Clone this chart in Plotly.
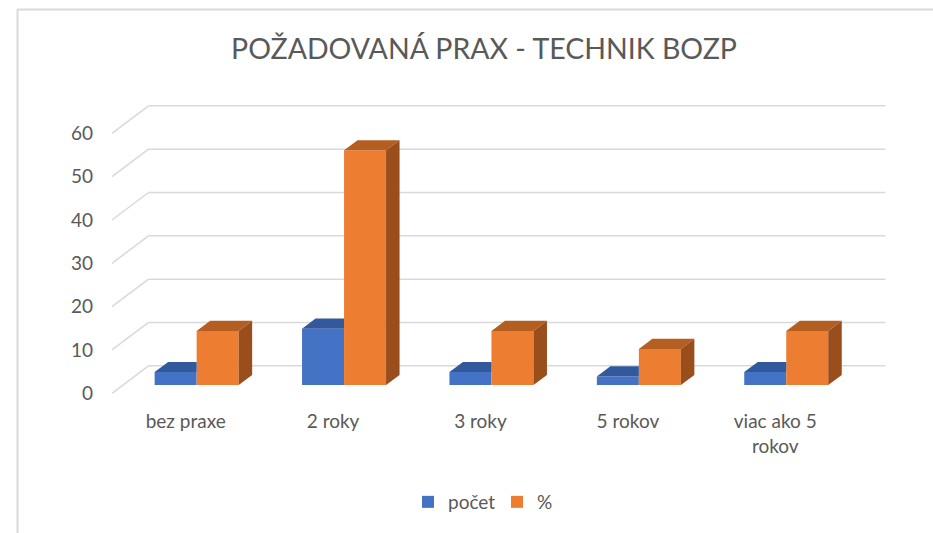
import plotly.graph_objects as go

# ---- data ----
categories = ["bez praxe", "2 roky", "3 roky", "5 rokov", "viac ako 5<br>rokov"]
pocet = [3, 13, 3, 2, 3]
percent = [12.5, 54.17, 12.5, 8.33, 12.5]
series_names = ["počet", "%"]
y_ticks = [0, 10, 20, 30, 40, 50, 60]
title_text = "POŽADOVANÁ PRAX - TECHNIK BOZP"

# ---- geometry / style ----
W, H = 933, 533
ML, MR, MT, MB = 100, 33, 95, 133
PW, PH = W - ML - MR, H - MT - MB
PX_X = 147.4          # px per category unit
PX_Y = 4.333          # px per value unit
ZERO_PY = 393.3       # pixel row of value 0 on the front floor edge
FLOOR_LEFT_PX = 112   # pixel column of the front floor left edge

xmin = -0.5 - (FLOOR_LEFT_PX - ML) / PX_X
xmax = xmin + PW / PX_X
ymin = -((MT + PH) - ZERO_PY) / PX_Y
ymax = ymin + PH / PX_Y

DDX = 36.5 / PX_X     # full depth vector (floor front -> back wall)
DDY = 27.5 / PX_Y
T0 = 0.30             # bar front plane depth fraction
TD = 0.37             # bar depth fraction
BW = 0.285            # single bar width

BLUE, BLUE_TOP = "#4472C4", "#32599B"
ORANGE, ORANGE_TOP, ORANGE_SIDE = "#ED7D31", "#B55E22", "#9A4E1C"
GRID = "#D9D9D9"
TXT = "#595959"
FONT = "Lato"

base = T0 * DDY
bdx, bdy = TD * DDX, TD * DDY

fig = go.Figure()

blue_x = [i + T0 * DDX - BW / 2 for i in range(len(categories))]
orng_x = [i + T0 * DDX + BW / 2 for i in range(len(categories))]

fig.add_trace(go.Bar(x=blue_x, y=pocet, base=[base] * len(pocet), width=BW,
                     marker=dict(color=BLUE, line=dict(width=0)), name=series_names[0],
                     hoverinfo="skip"))
fig.add_trace(go.Bar(x=orng_x, y=percent, base=[base] * len(percent), width=BW,
                     marker=dict(color=ORANGE, line=dict(width=0)), name=series_names[1],
                     hoverinfo="skip"))

# 3D faces computed from the data
bt_x, bt_y, ot_x, ot_y, os_x, os_y = [], [], [], [], [], []
for i, (b, o) in enumerate(zip(pocet, percent)):
    xc = i + T0 * DDX
    x0, x1, x2 = xc - BW, xc, xc + BW
    hb, ho = base + b, base + o
    bt_x += [x0, x1, x1, x0 + bdx, x0, None]
    bt_y += [hb, hb, hb + bdy, hb + bdy, hb, None]
    ot_x += [x1, x2, x2 + bdx, x1 + bdx, x1, None]
    ot_y += [ho, ho, ho + bdy, ho + bdy, ho, None]
    os_x += [x2, x2 + bdx, x2 + bdx, x2, x2, None]
    os_y += [base, base + bdy, ho + bdy, ho, base, None]

for xs, ys, col in [(bt_x, bt_y, BLUE_TOP), (ot_x, ot_y, ORANGE_TOP), (os_x, os_y, ORANGE_SIDE)]:
    fig.add_trace(go.Scatter(x=xs, y=ys, mode="lines", fill="toself", fillcolor=col,
                             line=dict(width=0, color=col), showlegend=False,
                             hoverinfo="skip"))

# back-wall gridlines + left diagonals
shapes = []
n = len(categories)
for v in y_ticks:
    shapes.append(dict(type="line", xref="x", yref="y", x0=-0.5, y0=v,
                       x1=-0.5 + DDX, y1=v + DDY, line=dict(color=GRID, width=1.5),
                       layer="below"))
    shapes.append(dict(type="line", xref="x", yref="y", x0=-0.5 + DDX, y0=v + DDY,
                       x1=n - 0.5 + DDX, y1=v + DDY, line=dict(color=GRID, width=1.5),
                       layer="below"))

# outer chart border (top and left edges visible)
def px2paper_x(px):
    return (px - ML) / PW

def px2paper_y(py):
    return (MT + PH - py) / PH

shapes.append(dict(type="line", xref="paper", yref="paper",
                   x0=px2paper_x(17), y0=px2paper_y(9.5), x1=px2paper_x(940), y1=px2paper_y(9.5),
                   line=dict(color=GRID, width=2)))
shapes.append(dict(type="line", xref="paper", yref="paper",
                   x0=px2paper_x(17.5), y0=px2paper_y(9), x1=px2paper_x(17.5), y1=px2paper_y(540),
                   line=dict(color=GRID, width=2)))

fig.update_layout(
    width=W, height=H,
    margin=dict(l=ML, r=MR, t=MT, b=MB),
    paper_bgcolor="white", plot_bgcolor="white",
    barmode="overlay",
    font=dict(family=FONT, color=TXT, size=19),
    title=dict(text=title_text, x=484 / W, xref="container", xanchor="center",
               y=1 - 49 / H, yref="container", yanchor="middle",
               font=dict(family=FONT, size=28.5, color=TXT)),
    xaxis=dict(range=[xmin, xmax], tickmode="array", tickvals=list(range(n)),
               ticktext=categories, showgrid=False, zeroline=False, showline=False,
               ticks="", ticklabelstandoff=8, tickfont=dict(size=19, color=TXT)),
    yaxis=dict(range=[ymin, ymax], tickmode="array", tickvals=y_ticks,
               ticktext=[str(v) for v in y_ticks], showgrid=False, zeroline=False,
               showline=False, ticks="", ticklabelstandoff=6,
               tickfont=dict(size=19, color=TXT)),
    legend=dict(orientation="h", x=497 / W, xref="container", xanchor="center",
                y=1 - 502 / H, yref="container", yanchor="middle",
                entrywidth=44, entrywidthmode="pixels",
                font=dict(size=19, color=TXT), traceorder="normal"),
    shapes=shapes,
)

fig.write_html("out.html", config={"displayModeBar": False},
               post_script="document.body.style.margin='0px';")
